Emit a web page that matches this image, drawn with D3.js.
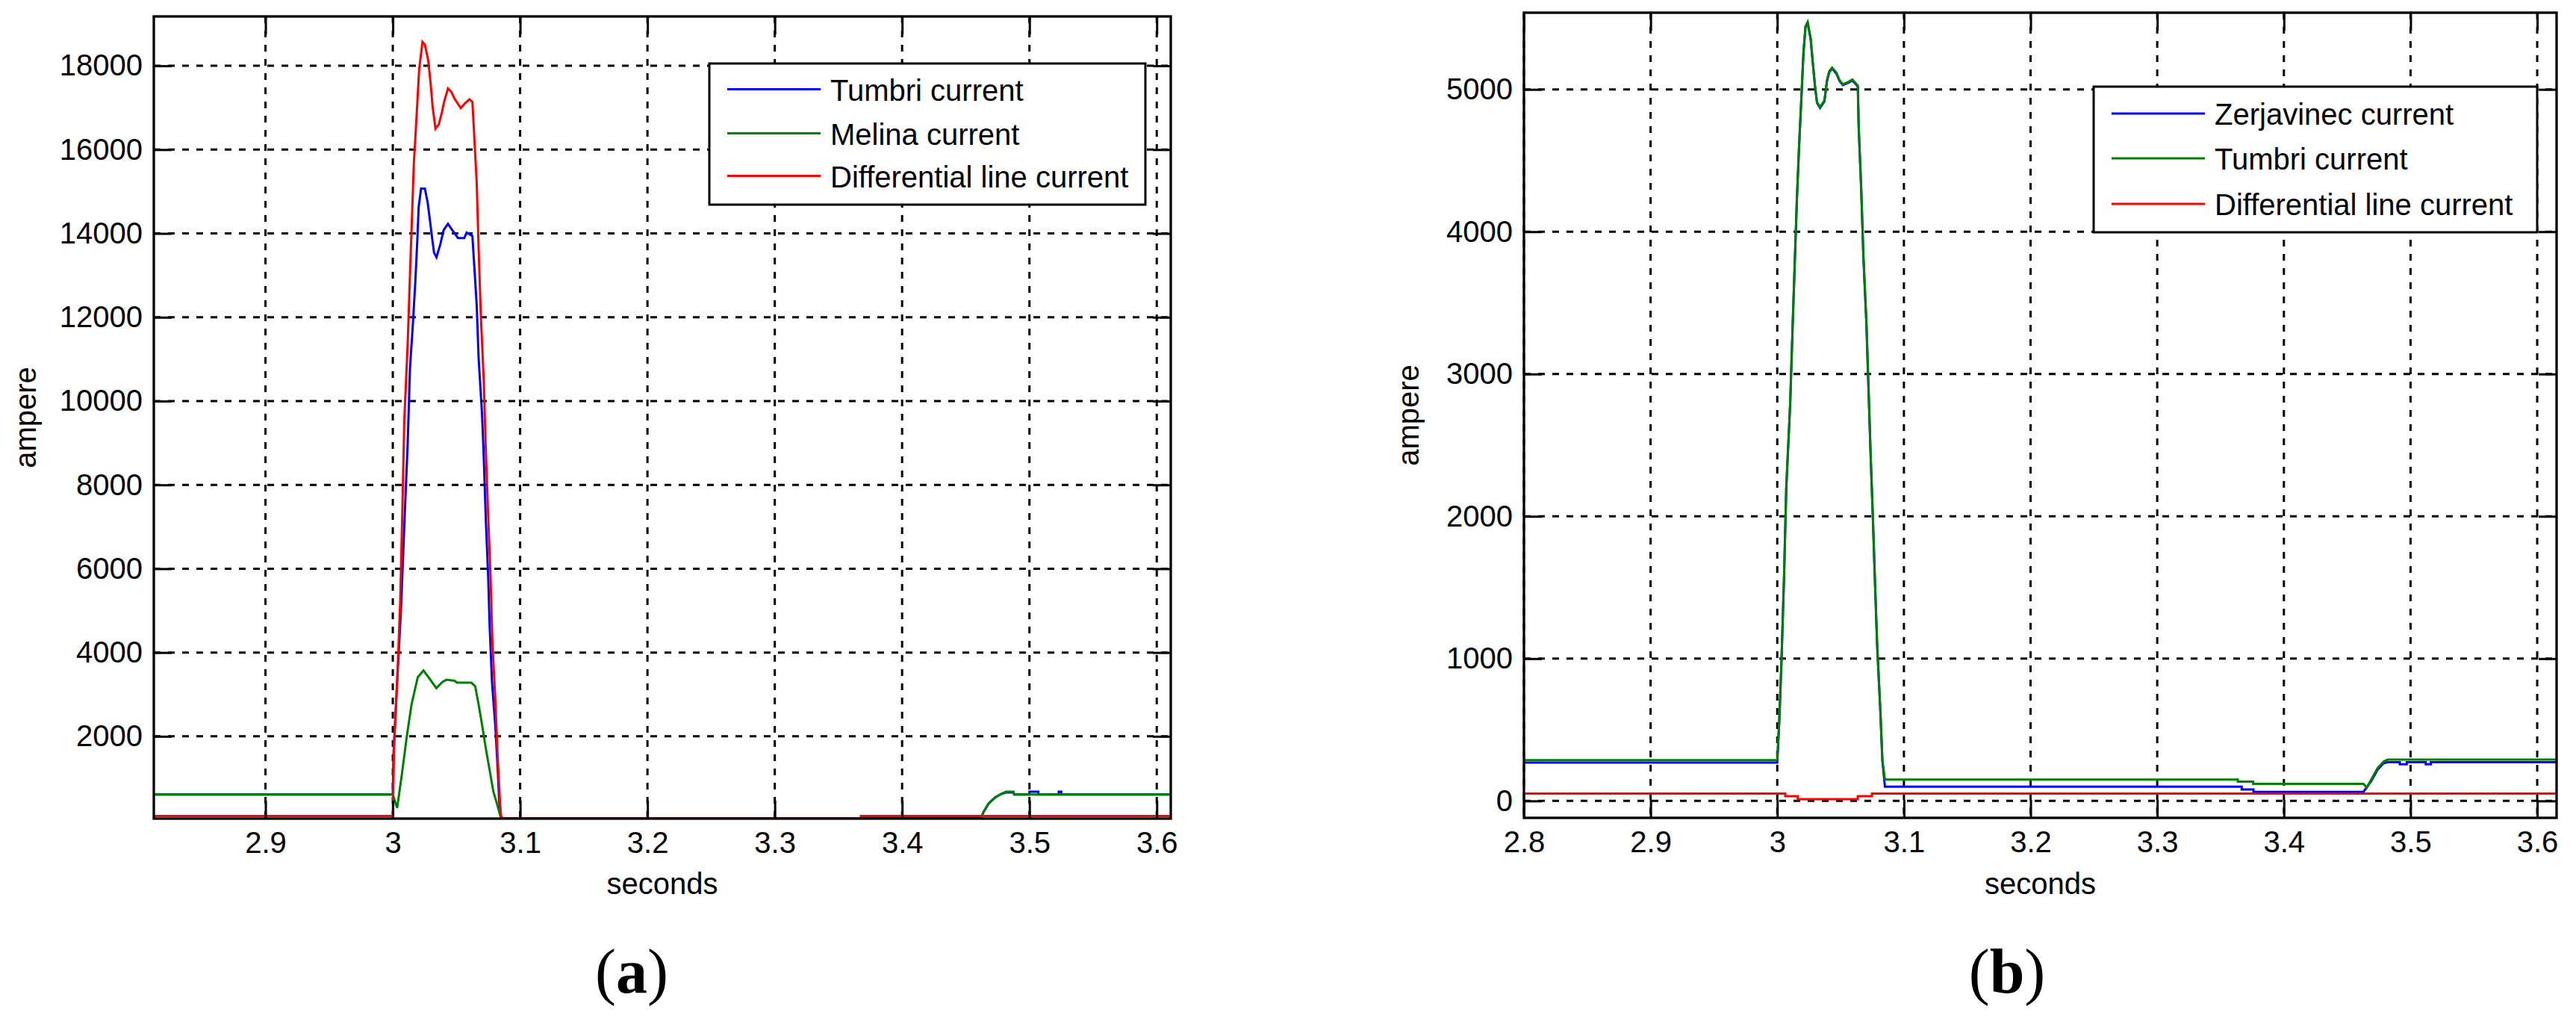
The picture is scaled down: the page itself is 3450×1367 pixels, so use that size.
<!DOCTYPE html>
<html><head><meta charset="utf-8">
<script src="https://cdn.jsdelivr.net/npm/d3@7"></script>
<style>
body{margin:0;background:#fff}
svg{display:block}
text{font-family:"Liberation Sans",Arial,sans-serif}
</style>
</head><body>
<svg id="c" width="3450" height="1367"></svg>
<script>
// ---------------- DATA (panel a) ----------------
const aTicksX = [2.9, 3, 3.1, 3.2, 3.3, 3.4, 3.5, 3.6];
const aTicksY = [2000, 4000, 6000, 8000, 10000, 12000, 14000, 16000, 18000];
const aNames = ["Tumbri current", "Melina current", "Differential line current"];
const aTumbri = [[2.8123,610],[3.0,610],[3.0005,1550],[3.0034,3290],[3.0064,5000],[3.009,7000],[3.0117,9000],[3.0135,10790],[3.0158,11850],[3.0177,12860],[3.0192,13810],[3.0203,14630],[3.0222,15070],[3.0252,15070],[3.0274,14730],[3.0293,14280],[3.0309,13880],[3.0324,13540],[3.0343,13430],[3.0373,13740],[3.0399,14080],[3.0433,14230],[3.0467,14080],[3.0512,13890],[3.0561,13890],[3.058,14020],[3.0625,13940],[3.0636,13410],[3.0659,12280],[3.0674,11020],[3.07,9730],[3.0712,8860],[3.0731,7120],[3.0749,5810],[3.076,4680],[3.0779,3290],[3.0805,2250],[3.0824,1200],[3.0836,420],[3.085,40],[3.4617,40],[3.464,200],[3.468,400],[3.473,540],[3.4775,620],[3.4815,660],[3.4875,660],[3.488,610],[3.5,610],[3.5,680],[3.507,680],[3.507,610],[3.523,610],[3.523,680],[3.525,680],[3.525,610],[3.611,610]];
const aMelina = [[2.8123,610],[3.0,610],[3.0034,290],[3.0072,1110],[3.0109,1980],[3.0147,2760],[3.0196,3410],[3.0241,3570],[3.029,3370],[3.0342,3150],[3.0391,3300],[3.0421,3350],[3.0485,3325],[3.0504,3280],[3.0617,3280],[3.0647,3195],[3.0674,2760],[3.0703,2240],[3.073,1720],[3.076,1200],[3.079,680],[3.0824,330],[3.0843,115],[3.086,40],[3.4617,40],[3.464,200],[3.468,400],[3.473,540],[3.4775,620],[3.4815,680],[3.4875,680],[3.488,610],[3.611,610]];
const aDiff = [[2.8123,100],[3.0,100],[3.001,1800],[3.0034,3300],[3.0058,5200],[3.0075,7400],[3.009,9520],[3.0117,11390],[3.0135,13030],[3.0165,15650],[3.0188,16870],[3.0207,17920],[3.0233,18570],[3.0252,18500],[3.0278,18130],[3.0297,17580],[3.0312,17040],[3.0335,16500],[3.0361,16600],[3.0384,16870],[3.0403,17140],[3.0433,17460],[3.0459,17380],[3.0486,17210],[3.0534,16990],[3.0568,17110],[3.0602,17200],[3.0625,17140],[3.0636,16530],[3.0659,15200],[3.0674,13640],[3.0692,12000],[3.0715,10440],[3.073,8860],[3.0749,7250],[3.0768,5770],[3.0782,4250],[3.0805,2860],[3.0824,1460],[3.0842,420],[3.085,100],[3.0861,40],[3.3676,40],[3.3676,100],[3.611,100]];

// ---------------- DATA (panel b) ----------------
const bTicksX = [2.8, 2.9, 3, 3.1, 3.2, 3.3, 3.4, 3.5, 3.6];
const bTicksY = [0, 1000, 2000, 3000, 4000, 5000];
const bNames = ["Zerjavinec current", "Tumbri current", "Differential line current"];
const bZerjavinec = [[2.8,269],[3.0,269],[3.0016,560],[3.0034,1000],[3.0054,1585],[3.0071,2195],[3.0102,2790],[3.0122,3350],[3.0139,3800],[3.0155,4225],[3.0172,4590],[3.019,4930],[3.0207,5255],[3.0223,5440],[3.024,5465],[3.0264,5350],[3.0281,5180],[3.0298,5020],[3.0314,4905],[3.0338,4870],[3.0372,4915],[3.0393,5060],[3.041,5120],[3.0433,5147],[3.0467,5110],[3.0491,5060],[3.0518,5030],[3.0569,5050],[3.0593,5063],[3.062,5036],[3.0636,5020],[3.0643,4730],[3.0663,4290],[3.068,3825],[3.0704,3350],[3.0721,2880],[3.0738,2405],[3.0756,1958],[3.0772,1520],[3.0789,1085],[3.0813,648],[3.083,280],[3.085,100],[3.3667,100],[3.3667,81],[3.376,81],[3.376,64],[3.4628,64],[3.469,140],[3.474,220],[3.4788,265],[3.482,272],[3.4915,272],[3.4915,258],[3.497,258],[3.497,272],[3.512,272],[3.512,258],[3.516,258],[3.516,272],[3.6153,272]];
const bTumbri = [[2.8,287],[3.0,287],[3.0016,572],[3.0034,1007],[3.0054,1592],[3.0071,2201],[3.0102,2796],[3.0122,3358],[3.0139,3810],[3.0155,4232],[3.0172,4600],[3.019,4936],[3.0207,5262],[3.0223,5444],[3.024,5474],[3.0264,5358],[3.0281,5187],[3.0298,5026],[3.0314,4910],[3.0338,4876],[3.0372,4922],[3.0393,5066],[3.041,5127],[3.0433,5153],[3.0467,5117],[3.0491,5066],[3.0518,5036],[3.0569,5056],[3.0593,5070],[3.062,5043],[3.0636,5026],[3.0643,4735],[3.0663,4299],[3.068,3831],[3.0704,3358],[3.0721,2886],[3.0738,2414],[3.0756,1965],[3.0772,1528],[3.0789,1091],[3.0813,654],[3.083,287],[3.085,150],[3.3636,150],[3.3636,136],[3.3757,136],[3.3757,120],[3.4628,120],[3.4655,94],[3.4691,153],[3.474,231],[3.4788,277],[3.482,290],[3.6153,290]];
const bDiff = [[2.8,51],[3.0063,51],[3.0063,33],[3.0162,33],[3.0162,12],[3.0636,12],[3.0636,33],[3.0748,33],[3.0748,51],[3.6153,51]];

const colors = ["#0000ff", "#008000", "#ff0000"];

// ---------------- DRAWING ----------------
const svg = d3.select("#c");
svg.append("rect").attr("width",3450).attr("height",1367).attr("fill","#fff");

function panel(cfg){
  const x = d3.scaleLinear().domain(cfg.xDom).range([cfg.x0, cfg.x1]);
  const y = d3.scaleLinear().domain(cfg.yDom).range([cfg.y1, cfg.y0]);
  const g = svg.append("g");
  const id = "clip" + cfg.tag;
  g.append("clipPath").attr("id", id).append("rect")
    .attr("x", cfg.x0).attr("y", cfg.y0).attr("width", cfg.x1-cfg.x0).attr("height", cfg.y1-cfg.y0);

  // grid
  const grid = g.append("g").attr("stroke","#000").attr("stroke-width",3).attr("stroke-dasharray","9,10");
  grid.selectAll(".vg").data(cfg.xTicks).join("line")
    .attr("x1",d=>x(d)).attr("x2",d=>x(d)).attr("y1",cfg.y0).attr("y2",cfg.y1);
  grid.selectAll(".hg").data(cfg.yTicks).join("line")
    .attr("x1",cfg.x0).attr("x2",cfg.x1).attr("y1",d=>y(d)).attr("y2",d=>y(d));

  // series
  const line = d3.line().x(d=>x(d[0])).y(d=>y(d[1]));
  const lg = g.append("g").attr("clip-path","url(#"+id+")");
  cfg.series.forEach((s,i)=>{
    lg.append("path").attr("d", line(s)).attr("fill","none")
      .attr("stroke", colors[i]).attr("stroke-width",3).attr("stroke-linejoin","miter");
  });

  // axes
  const fmt = d=>String(d);
  const tickLen = 24;
  function style(sel, hideText){
    sel.select(".domain").remove();
    sel.selectAll(".tick line").attr("stroke","#000").attr("stroke-width",3);
    sel.selectAll(".tick text").attr("fill","#000").style("font-size","40px")
      .style("font-family",'"Liberation Sans",Arial,sans-serif');
    if(hideText) sel.selectAll(".tick text").remove();
  }
  g.append("g").attr("transform",`translate(0,${cfg.y1})`)
    .call(d3.axisBottom(x).tickValues(cfg.xTicks).tickFormat(fmt).tickSize(-tickLen).tickPadding(18))
    .call(s=>style(s,false));
  g.append("g").attr("transform",`translate(0,${cfg.y0})`)
    .call(d3.axisTop(x).tickValues(cfg.xTicks).tickSize(-tickLen))
    .call(s=>style(s,true));
  g.append("g").attr("transform",`translate(${cfg.x0},0)`)
    .call(d3.axisLeft(y).tickValues(cfg.yTicks).tickFormat(fmt).tickSize(-tickLen).tickPadding(15))
    .call(s=>style(s,false));
  g.append("g").attr("transform",`translate(${cfg.x1},0)`)
    .call(d3.axisRight(y).tickValues(cfg.yTicks).tickSize(-tickLen))
    .call(s=>style(s,true));

  // frame
  g.append("rect").attr("x",cfg.x0).attr("y",cfg.y0).attr("width",cfg.x1-cfg.x0).attr("height",cfg.y1-cfg.y0)
    .attr("fill","none").attr("stroke","#000").attr("stroke-width",3.3);

  // axis labels
  g.append("text").attr("x",(cfg.x0+cfg.x1)/2).attr("y",1197).attr("text-anchor","middle")
    .style("font-size","40px").text("seconds");
  g.append("text").attr("transform",`translate(${cfg.ylabX},${(cfg.y0+cfg.y1)/2}) rotate(-90)`)
    .attr("text-anchor","middle").style("font-size","40px").text("ampere");

  // legend
  const L = cfg.legend;
  g.append("rect").attr("x",L.x).attr("y",L.y).attr("width",L.w).attr("height",L.h)
    .attr("fill","#fff").attr("stroke","#000").attr("stroke-width",3);
  cfg.names.forEach((n,i)=>{
    const ry = L.rows[i];
    g.append("line").attr("x1",L.x+24).attr("x2",L.x+149).attr("y1",ry).attr("y2",ry)
      .attr("stroke",colors[i]).attr("stroke-width",3);
    g.append("text").attr("x",L.x+162).attr("y",ry+15).style("font-size","40px").text(n);
  });

  // panel label
  const t = svg.append("text").attr("x",cfg.labelX).attr("y",1329).attr("text-anchor","middle")
    .style("font-family",'"Liberation Serif","Times New Roman",serif').style("font-size","84px");
  t.append("tspan").text("(");
  t.append("tspan").attr("font-weight","bold").text(cfg.label);
  t.append("tspan").text(")");
}

panel({tag:"a", x0:206, x1:1568, y0:22, y1:1096,
  xDom:[2.8123,3.611], yDom:[37,19178], xTicks:aTicksX, yTicks:aTicksY,
  series:[aTumbri,aMelina,aDiff], names:aNames,
  legend:{x:950,y:85,w:584,h:189,rows:[119.5,178.5,235.5]},
  label:"a", labelX:846, ylabX:48});

panel({tag:"b", x0:2041, x1:3424, y0:17, y1:1095,
  xDom:[2.8,3.6153], yDom:[-119,5539], xTicks:bTicksX, yTicks:bTicksY,
  series:[bZerjavinec,bTumbri,bDiff], names:bNames,
  legend:{x:2804,y:116,w:594,h:195,rows:[152,212,273]},
  label:"b", labelX:2688, ylabX:1900});
</script>
</body></html>
